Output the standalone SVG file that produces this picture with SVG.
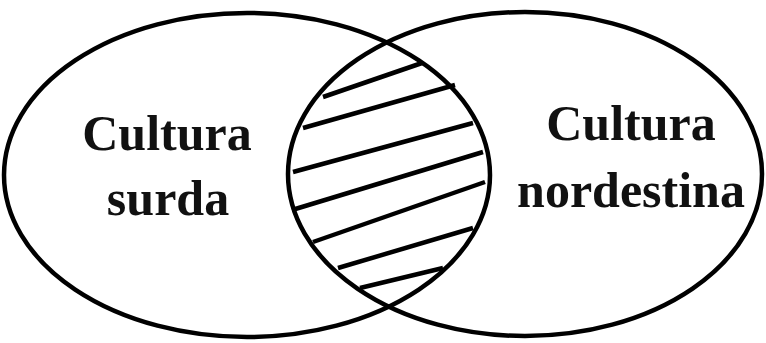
<svg xmlns="http://www.w3.org/2000/svg" width="766" height="343" viewBox="0 0 766 343">
<style>
.c{fill:none;stroke:#000;stroke-width:4.5}
.h{stroke:#000;stroke-width:4.5;stroke-linecap:butt}
.t{font-family:"Liberation Serif","Times New Roman",serif;font-weight:bold;font-size:50px;fill:#111;text-anchor:middle}
</style>
<rect width="766" height="343" fill="#fff"/>
<g id="surda">
<ellipse class="c" cx="247" cy="175" rx="243" ry="162"/>
<text class="t" x="167" y="150">Cultura</text>
<text class="t" x="168" y="215">surda</text>
</g>
<g id="nordestina">
<ellipse class="c" cx="525" cy="174" rx="237" ry="162"/>
<text class="t" x="631" y="140">Cultura</text>
<text class="t" x="631" y="207">nordestina</text>
</g>
<g id="intersecao">
<line class="h" x1="323" y1="97" x2="422" y2="63"/>
<line class="h" x1="303" y1="128" x2="455" y2="85"/>
<line class="h" x1="293" y1="172" x2="473" y2="123"/>
<line class="h" x1="292" y1="210" x2="483" y2="152"/>
<line class="h" x1="313" y1="242" x2="485" y2="182"/>
<line class="h" x1="338" y1="268" x2="473" y2="228"/>
<line class="h" x1="360" y1="288" x2="443" y2="268"/>
</g>
</svg>
